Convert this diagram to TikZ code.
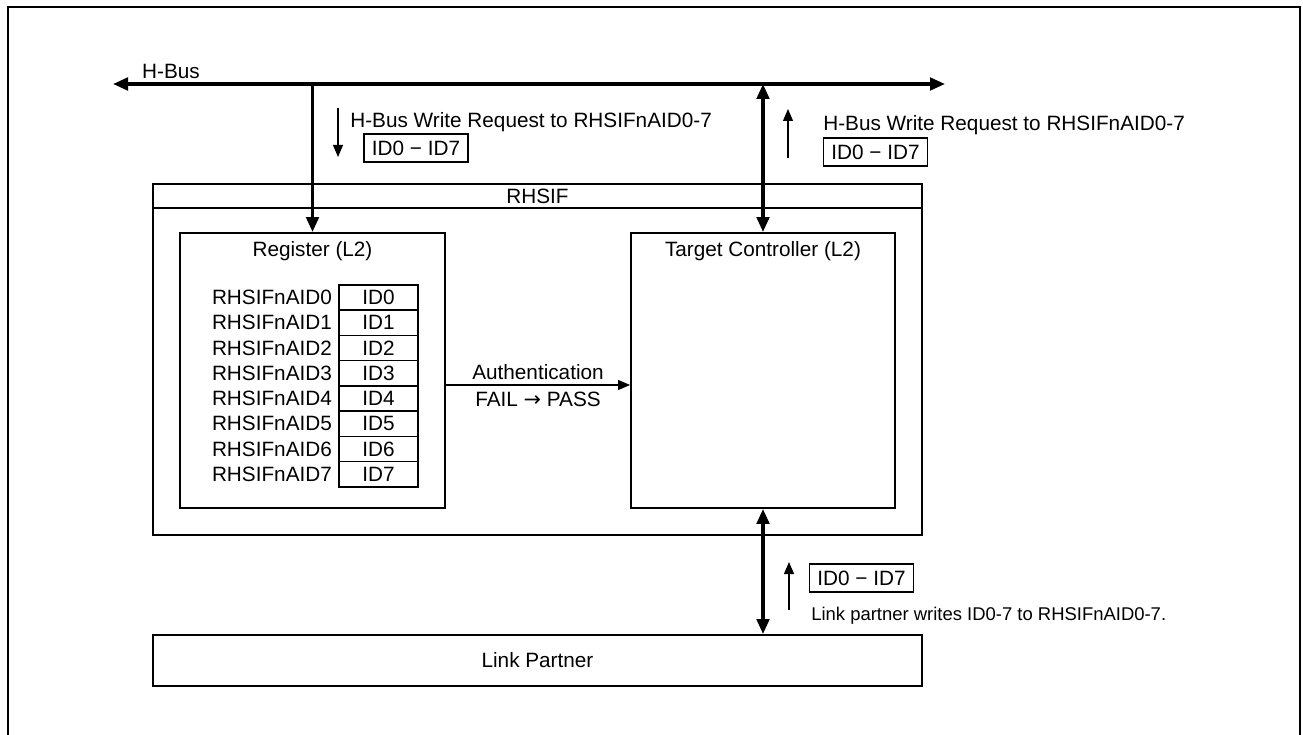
\documentclass[tikz,border=0pt]{standalone}
\usepackage{fontspec}
\setmainfont{Liberation Sans}
\newfontfamily\arrowfont{DejaVu Sans}
\usetikzlibrary{arrows.meta,positioning}

\begin{document}
\begin{tikzpicture}[
  >={Triangle[length=0.3cm,width=0.25cm]},
  box/.style={draw, line width=1.1pt, inner sep=0pt, font=\fontsize{11.8}{14}\selectfont},
  cell/.style={draw, line width=0.9pt, minimum width=1.58cm, minimum height=0.505cm, inner sep=0pt, font=\fontsize{11.8}{14}\selectfont},
  lbl/.style={inner sep=0pt, font=\fontsize{11.8}{14}\selectfont},
  small/.style={inner sep=0pt, font=\fontsize{10.5}{12}\selectfont},
  idbox/.style={draw, line width=1.1pt, minimum width=2.08cm, minimum height=0.56cm, inner sep=0pt, font=\fontsize{11.8}{14}\selectfont},
  bus/.style={line width=1.9pt},
  thin/.style={line width=0.6pt, -{Triangle[length=0.24cm,width=0.2cm]}},
]
\useasboundingbox (0,0) rectangle (26.06,-14.70);

% outer frame, open at the bottom
\draw[line width=1.2pt] (0.16,-14.70) -- (0.16,-0.14) -- (26.0,-0.14) -- (26.0,-14.70);

% H-Bus
\coordinate (busL) at (2.26,-1.68);
\coordinate (busR) at (18.9,-1.68);
\draw[bus,<->] (busL) -- (busR);
\node[lbl] (hbus) at (3.42,-1.42) {H-Bus};

% RHSIF block
\node[box, minimum width=15.38cm, minimum height=7.02cm] (rhsif) at (10.75,-7.19) {};
\node[box, minimum width=15.38cm, minimum height=0.48cm, anchor=north] (rhsifhd) at (rhsif.north) {RHSIF};

\node[box, minimum width=5.3cm, minimum height=5.5cm] (reg) at (6.25,-7.41) {};
\node[lbl] (regttl) at (6.25,-5.02) {Register (L2)};

\node[box, minimum width=5.28cm, minimum height=5.5cm] (tgt) at (15.26,-7.41) {};
\node[lbl] (tgtttl) at (15.26,-5.02) {Target Controller (L2)};

% ID registers
\foreach \i in {0,...,7} {
  \node[cell] (id\i) at (7.57,{-5.95-0.505*\i}) {ID\i};
  \node[lbl, left=0.12cm of id\i] (aid\i) {RHSIFnAID\i};
}

\coordinate (auth) at (10.74,-7.70);
\draw[thin] (reg.east |- auth) -- (tgt.west |- auth)
  node[lbl, midway, above=0.09cm] (authtxt) {Authentication}
  node[lbl, midway, below=0.12cm] (failpass) {FAIL\ {\arrowfont →}\ PASS};

% bus connections
\draw[bus,->] (reg.north |- busL) -- (reg.north);
\draw[bus,<->] (tgt.north |- busL) -- (tgt.north);

\node[box, minimum width=15.38cm, minimum height=1.02cm] (link) at (10.75,-13.21) {Link Partner};
\draw[bus,<->] (tgt.south) -- (link.north -| tgt.south);

% write requests
\node[lbl, anchor=base west] (reqL) at (7.0,-2.55) {H-Bus Write Request to RHSIFnAID0-7};
\node[idbox] (idL) at (8.32,-2.96) {ID0 − ID7};
\coordinate (dnA) at (6.76,-2.16);
\coordinate (dnB) at (6.76,-3.14);
\draw[thin] (dnA) -- (dnB);

\node[lbl, anchor=base west] (reqR) at (16.46,-2.61) {H-Bus Write Request to RHSIFnAID0-7};
\node[idbox] (idR) at (17.51,-3.04) {ID0 − ID7};
\coordinate (upA) at (15.76,-3.16);
\coordinate (upB) at (15.76,-2.18);
\draw[thin] (upA) -- (upB);

\node[idbox] (idB) at (17.23,-11.56) {ID0 − ID7};
\node[small, anchor=base west] (lpnote) at (16.22,-12.40) {Link partner writes ID0-7 to RHSIFnAID0-7.};
\coordinate (lpA) at (15.78,-12.2);
\coordinate (lpB) at (15.78,-11.24);
\draw[thin] (lpA) -- (lpB);

\end{tikzpicture}
\end{document}
